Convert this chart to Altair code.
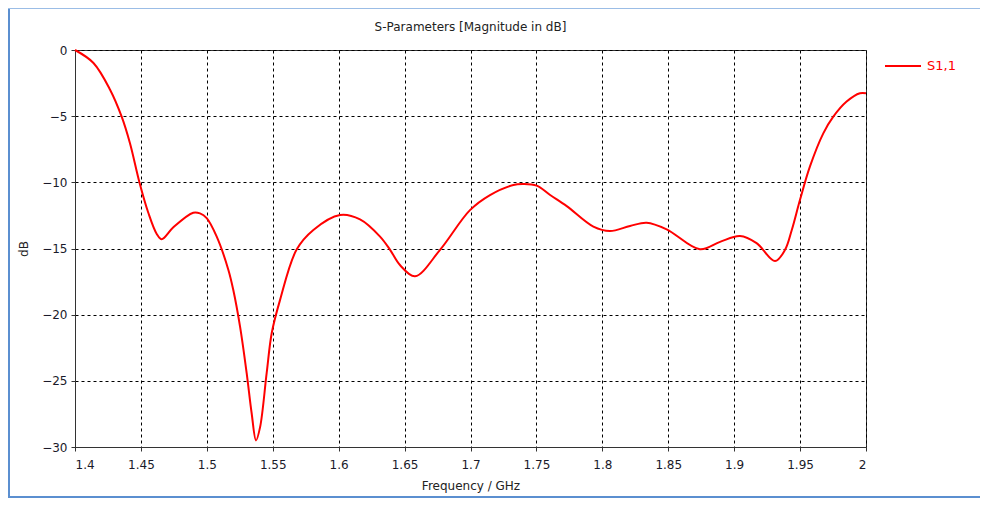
import altair as alt
import pandas as pd

freq = [1.400, 1.414, 1.4266, 1.4354, 1.4417, 1.449, 1.4556, 1.462, 1.4658,
        1.4746, 1.4897, 1.4948, 1.4999, 1.5075, 1.5163, 1.520, 1.5252, 1.5302, 1.534,
        1.5373, 1.5404, 1.5454, 1.5492, 1.5555, 1.568, 1.5808, 1.601, 1.6162, 1.6314,
        1.639, 1.6465, 1.6579, 1.6769, 1.6996, 1.7148, 1.7325, 1.740, 1.7502, 1.7604,
        1.773, 1.7932, 1.8058, 1.821, 1.8336, 1.8488, 1.874, 1.8893, 1.9044, 1.917,
        1.931, 1.9386, 1.9437, 1.950, 1.9575, 1.9676, 1.9752, 1.9853, 1.9954, 2.000]
s11_db = [0.0, -0.98, -3.0, -5.04, -7.05, -10.05, -12.3, -13.9, -14.3,
          -13.4, -12.3, -12.35, -12.7, -14.1, -16.6, -18.1, -20.9, -24.4, -27.45,
          -29.5, -28.5, -24.4, -21.4, -18.9, -15.1, -13.6, -12.47, -12.8, -14.1,
          -15.1, -16.25, -17.1, -15.1, -12.1, -10.96, -10.2, -10.13, -10.25, -10.96,
          -11.8, -13.35, -13.68, -13.3, -13.05, -13.55, -15.06, -14.5, -14.06, -14.6,
          -15.95, -15.1, -13.6, -11.3, -8.8, -6.3, -5.04, -3.9, -3.27, -3.27]
series = "S1,1"
chart_title = "S-Parameters [Magnitude in dB]"
x_ticks = [1.4, 1.45, 1.5, 1.55, 1.6, 1.65, 1.7, 1.75, 1.8, 1.85, 1.9, 1.95, 2.0]
y_ticks = [0, -5, -10, -15, -20, -25, -30]

df = pd.DataFrame({"freq": freq, "db": s11_db, "series": [series] * len(freq)})

FONT = "DejaVu Sans"

line = alt.Chart(df).mark_line(strokeWidth=2, interpolate="catmull-rom").encode(
    x=alt.X("freq:Q", scale=alt.Scale(domain=[1.4, 2.0], nice=False, zero=False),
            axis=alt.Axis(values=x_ticks, title="Frequency / GHz",
                          labelExpr="format(datum.value, '.3~f')")),
    y=alt.Y("db:Q", scale=alt.Scale(domain=[-30, 0], nice=False),
            axis=alt.Axis(values=y_ticks, title="dB")),
    color=alt.Color("series:N", scale=alt.Scale(domain=[series], range=["#ff0000"]),
                    legend=alt.Legend(title=None, orient="none", legendX=809, legendY=-3,
                                      symbolType="stroke", symbolSize=1296,
                                      symbolStrokeWidth=2, labelColor="#ff0000",
                                      labelFontSize=13, labelFont=FONT,
                                      labelOffset=5, padding=0)),
)

frame_df = pd.DataFrame({"title": [chart_title]})
title_mark = alt.Chart(frame_df).mark_text(
    font=FONT, fontSize=12, color="#222222", align="center", baseline="middle"
).encode(x=alt.value(395.5), y=alt.value(-23), text="title:N")
left_border = alt.Chart(frame_df).mark_rule(color="#5b8fd0", strokeWidth=2).encode(
    x=alt.value(-66), y=alt.value(-42), y2=alt.value(448))
top_border = alt.Chart(frame_df).mark_rule(color="#9bbde6", strokeWidth=1).encode(
    x=alt.value(-67), x2=alt.value(905), y=alt.value(-41.5))
bottom_border = alt.Chart(frame_df).mark_rule(color="#5b8fd0", strokeWidth=2).encode(
    x=alt.value(-67), x2=alt.value(905), y=alt.value(447))

chart = alt.layer(line, title_mark, left_border, top_border, bottom_border).properties(
    width=791, height=397,
    autosize=alt.AutoSizeParams(type="none"),
    padding={"left": 67, "top": 42, "right": 114, "bottom": 51},
    background="white",
).configure_view(
    stroke="#333333", strokeWidth=1
).configure_axis(
    labelFont=FONT, labelFontSize=12, labelColor="#1a1a2a",
    titleFont=FONT, titleFontSize=12, titleFontWeight="normal", titleColor="#222222",
    domainColor="#333333", tickColor="#333333", tickSize=4,
    grid=True, gridColor="#000000", gridDash=[3, 3], gridOpacity=1, gridWidth=1,
).configure_axisX(
    labelPadding=8, titlePadding=10,
).configure_axisY(
    labelPadding=4, titlePadding=11,
)

chart.save("out.html", embed_options={"renderer": "svg", "actions": False})
